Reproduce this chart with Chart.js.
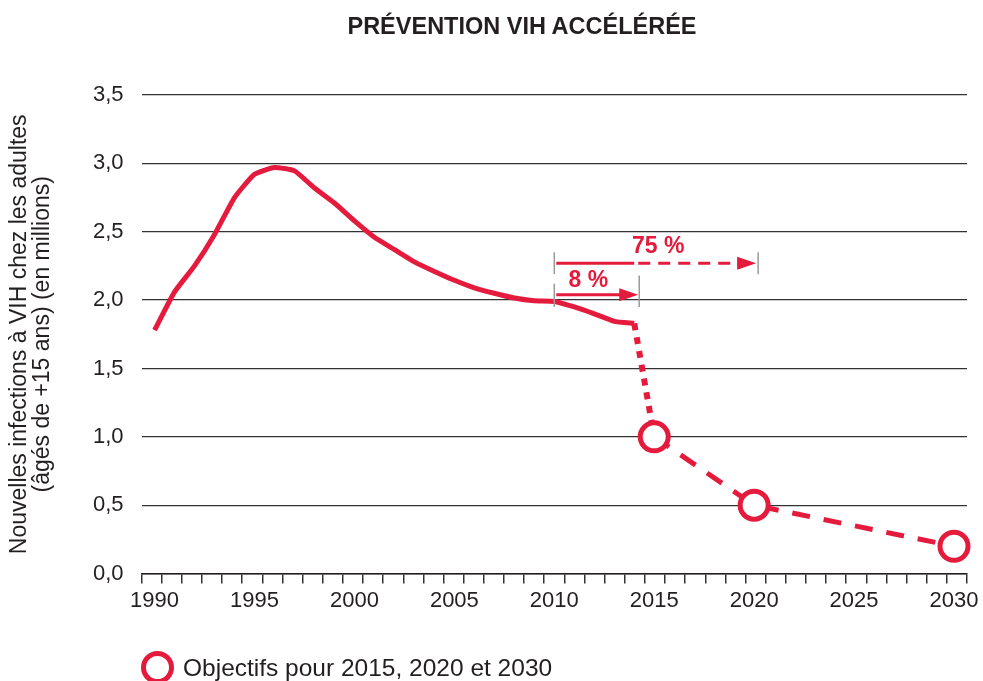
<!DOCTYPE html>
<html lang="fr">
<head>
<meta charset="utf-8">
<title>Prévention VIH accélérée</title>
<script src="https://cdn.jsdelivr.net/npm/chart.js@4.4.1/dist/chart.umd.min.js"></script>
<style>
  html, body { margin: 0; padding: 0; background: #fff; }
  #wrap { position: relative; width: 983px; height: 681px; font-family: "Liberation Sans", Arial, sans-serif; color: #231f20; }
  #wrap canvas { position: absolute; left: 0; top: 0; }
  #chartTitle { position: absolute; top: 15px; left: 522px; transform: translateX(-50%); font-size: 23.5px; line-height: 23.5px; font-weight: bold; white-space: nowrap; }
  #legend { position: absolute; left: 141px; top: 651px; display: flex; align-items: center; font-size: 24.5px; white-space: nowrap; }
  #legend .ring { width: 23px; height: 23px; border: 5px solid #e41b3c; border-radius: 50%; margin-right: 9px; background: #fff; }
</style>
</head>
<body>
<div id="wrap">
  <canvas id="myChart" width="983" height="681"></canvas>
  <div id="chartTitle">PRÉVENTION VIH ACCÉLÉRÉE</div>
  <div id="legend"><span class="ring"></span><span>Objectifs pour 2015, 2020 et 2030</span></div>
</div>
<script>
// données (millions)
const years = [1990, 1991, 1992, 1993, 1994, 1995, 1996, 1997, 1998, 1999,
               2000, 2001, 2002, 2003, 2004, 2005, 2006, 2007, 2008, 2009,
               2010, 2011, 2012, 2013, 2014];
const newInfections = [1.78, 2.06, 2.25, 2.48, 2.75, 2.92, 2.97, 2.945, 2.82, 2.71,
                       2.58, 2.46, 2.37, 2.28, 2.21, 2.145, 2.09, 2.05, 2.015, 1.995,
                       1.99, 1.95, 1.90, 1.845, 1.83];

const targetYears = [2015, 2020, 2030];
const targetValues = [1.0, 0.5, 0.2];

const yearLabels = [1990, 1995, 2000, 2005, 2010, 2015, 2020, 2025, 2030];
const yTicks = [0, 0.5, 1, 1.5, 2, 2.5, 3, 3.5];

// flèches 75 % / 8 %
const arrowLabels = ['75 %', '8 %'];
const arrowFrom = [2010, 2010];
const arrowSolidTo = [2014, 2014.2];
const arrowTo = [2020.1, 2014.2];
const arrowLevel = [2.27, 2.04];
const labelYear = [2015.2, 2011.7];
const labelLevel = [2.39, 2.145];

// petits repères gris
const markYears = [2010, 2020.2, 2010, 2014.25];
const markTop = [2.35, 2.35, 2.12, 2.18];
const markBottom = [2.19, 2.19, 1.95, 1.95];

const red = '#e41b3c';
const ink = '#231f20';
const xMin = 1989.35, xMax = 2030.65;

Chart.defaults.font.family = '"Liberation Sans", Arial, sans-serif';
Chart.defaults.color = ink;

const arrowPlugin = {
    id: 'fleches',
    afterDatasetsDraw(chart) {
        const { ctx, scales: { x, y } } = chart;
        ctx.save();
        ctx.strokeStyle = '#9a9a9a';
        ctx.lineWidth = 1.5;
        markYears.forEach((yr, i) => {
            const px = x.getPixelForValue(yr);
            ctx.beginPath();
            ctx.moveTo(px, y.getPixelForValue(markTop[i]));
            ctx.lineTo(px, y.getPixelForValue(markBottom[i]));
            ctx.stroke();
        });

        ctx.strokeStyle = red;
        ctx.fillStyle = red;
        ctx.lineWidth = 3;
        const head = 19;
        arrowLabels.forEach((lbl, i) => {
            const x0 = x.getPixelForValue(arrowFrom[i]) + 2;
            const x1 = x.getPixelForValue(arrowSolidTo[i]);
            const x2 = x.getPixelForValue(arrowTo[i]);
            const py = y.getPixelForValue(arrowLevel[i]);
            ctx.beginPath();
            ctx.moveTo(x0, py);
            ctx.lineTo(Math.min(x1, x2 - head + 1), py);
            ctx.stroke();
            if (x1 < x2 - head) {
                ctx.setLineDash([12, 8]);
                ctx.beginPath();
                ctx.moveTo(x1 + 4, py);
                ctx.lineTo(x2 - head, py);
                ctx.stroke();
                ctx.setLineDash([]);
            }
            ctx.beginPath();
            ctx.moveTo(x2, py);
            ctx.lineTo(x2 - head, py - 6.5);
            ctx.lineTo(x2 - head, py + 6.5);
            ctx.closePath();
            ctx.fill();

            ctx.font = 'bold 23px "Liberation Sans", Arial, sans-serif';
            ctx.textAlign = 'center';
            ctx.textBaseline = 'middle';
            ctx.fillText(lbl, x.getPixelForValue(labelYear[i]), y.getPixelForValue(labelLevel[i]));
        });
        ctx.restore();
    }
};

// la marge droite est fixée par layout.padding, pas par le débordement du libellé 2030
const noSidePadding = (scale) => {
    scale.paddingLeft = 0;
    scale.paddingRight = 0;
};

const ctx = document.getElementById('myChart').getContext('2d');
const myChart = new Chart(ctx, {
    type: 'line',
    data: {
        datasets: [
            {
                label: 'Objectifs pour 2015, 2020 et 2030',
                data: targetYears.map((yr, i) => ({ x: yr, y: targetValues[i] })),
                borderColor: red,
                borderWidth: 5,
                borderDash: [18, 14],
                pointRadius: 14,
                pointBorderWidth: 5,
                pointBorderColor: red,
                pointBackgroundColor: '#fff',
                clip: false,
            },
            {
                label: 'transition',
                data: [
                    { x: years[years.length - 1], y: newInfections[newInfections.length - 1] },
                    { x: targetYears[0], y: targetValues[0] }
                ],
                borderColor: red,
                borderWidth: 6,
                borderDash: [7, 7],
                pointRadius: 0,
                clip: false,
            },
            {
                label: 'Nouvelles infections',
                data: years.map((yr, i) => ({ x: yr, y: newInfections[i] })),
                borderColor: red,
                borderWidth: 5,
                pointRadius: 0,
                tension: 0.15,
                borderJoinStyle: 'round',
                clip: false,
            }
        ]
    },
    options: {
        responsive: false,
        animation: false,
        layout: { autoPadding: false, padding: { left: 0, right: 16, top: 95, bottom: 63 } },
        plugins: {
            legend: { display: false },
            tooltip: { enabled: false },
            title: { display: false }
        },
        scales: {
            x: {
                type: 'linear',
                min: xMin,
                max: xMax,
                afterBuildTicks: (scale) => {
                    // 42 petites graduations régulières
                    const t = [];
                    for (let k = 0; k <= 41; k++) t.push({ value: xMin + k * (xMax - xMin) / 41 });
                    scale.ticks = t;
                },
                afterFit: noSidePadding,
                ticks: { display: false },
                grid: { drawOnChartArea: false, drawTicks: true, tickLength: 10, color: '#333', lineWidth: 1.5 },
                border: { display: true, color: ink, width: 1.5 }
            },
            xLabels: {
                type: 'linear',
                position: 'bottom',
                min: xMin,
                max: xMax,
                afterBuildTicks: (scale) => {
                    scale.ticks = yearLabels.map(v => ({ value: v }));
                },
                afterFit: noSidePadding,
                ticks: {
                    autoSkip: false,
                    maxRotation: 0,
                    padding: 4,
                    font: { size: 22 },
                    callback: (value) => String(value)
                },
                grid: { display: false, drawTicks: false },
                border: { display: false }
            },
            y: {
                min: 0,
                max: 3.5,
                afterBuildTicks: (scale) => {
                    scale.ticks = yTicks.map(v => ({ value: v }));
                },
                ticks: {
                    padding: 18,
                    font: { size: 22 },
                    callback: (value) => value.toFixed(1).replace('.', ',')
                },
                grid: { color: '#333', lineWidth: 1.3, drawTicks: false },
                border: { display: false },
                title: {
                    display: true,
                    text: ['Nouvelles infections à VIH chez les adultes', '(âgés de +15 ans) (en millions)'],
                    font: { size: 23, lineHeight: 1.0 },
                    color: ink,
                    padding: { top: 8, bottom: 21 }
                }
            }
        }
    },
    plugins: [arrowPlugin]
});
</script>
</body>
</html>
